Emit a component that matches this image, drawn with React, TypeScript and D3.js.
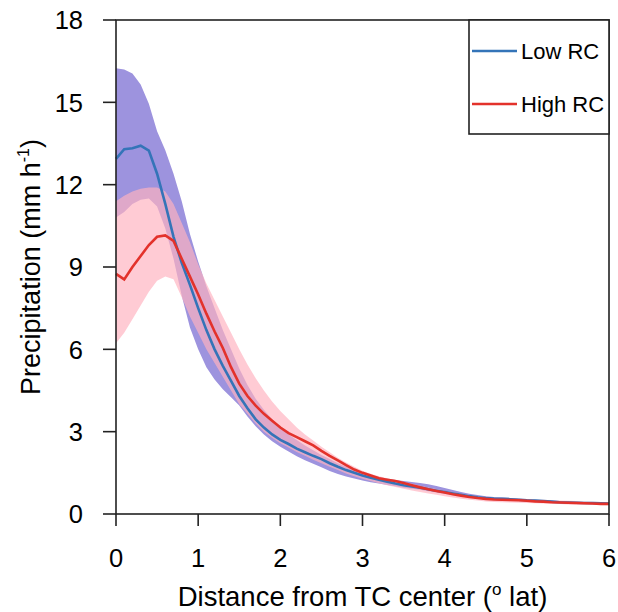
import React from "react";
import * as d3 from "d3";

const distance = [0,0.1,0.2,0.3,0.4,0.5,0.6,0.7,0.8,0.9,1.0,1.1,1.2,1.3,1.4,1.5,1.6,1.7,1.8,1.9,2.0,2.1,2.2,2.3,2.4,2.5,2.6,2.7,2.8,2.9,3.0,3.1,3.2,3.3,3.4,3.5,3.6,3.7,3.8,3.9,4.0,4.1,4.2,4.3,4.4,4.5,4.6,4.7,4.8,4.9,5.0,5.1,5.2,5.3,5.4,5.5,5.6,5.7,5.8,5.9,6.0];

const lowRC = [12.94,13.29,13.33,13.42,13.24,12.4,11.3,10.1,9.15,8.35,7.5,6.7,6.0,5.4,4.85,4.3,3.85,3.45,3.15,2.9,2.7,2.55,2.38,2.25,2.12,2.0,1.85,1.72,1.6,1.5,1.4,1.32,1.25,1.18,1.11,1.05,1.0,0.96,0.9,0.85,0.8,0.75,0.7,0.65,0.61,0.58,0.56,0.55,0.54,0.52,0.5,0.49,0.47,0.45,0.43,0.42,0.41,0.40,0.40,0.39,0.38];
const lowUpper = [16.24,16.2,16.05,15.65,14.95,13.95,13.25,12.4,11.4,10.2,9.2,8.3,7.5,6.7,6.0,5.3,4.7,4.2,3.8,3.45,3.15,2.9,2.7,2.5,2.32,2.15,2.0,1.85,1.72,1.6,1.5,1.42,1.35,1.28,1.24,1.2,1.17,1.13,1.08,1.02,0.95,0.87,0.8,0.74,0.69,0.65,0.62,0.6,0.58,0.56,0.54,0.52,0.5,0.49,0.47,0.46,0.45,0.44,0.43,0.42,0.41];
const lowLower = [10.8,11.0,11.3,11.45,11.5,11.2,10.4,9.3,7.95,6.8,6.0,5.35,4.9,4.55,4.25,3.95,3.55,3.2,2.9,2.65,2.45,2.28,2.1,1.96,1.83,1.7,1.57,1.46,1.37,1.29,1.22,1.16,1.11,1.06,1.01,0.96,0.92,0.88,0.83,0.78,0.73,0.69,0.65,0.61,0.58,0.55,0.53,0.52,0.51,0.49,0.47,0.46,0.44,0.42,0.41,0.4,0.39,0.38,0.38,0.37,0.36];

const highRC = [8.75,8.55,9.0,9.4,9.8,10.1,10.15,9.95,9.3,8.65,8.0,7.3,6.65,6.05,5.35,4.75,4.3,3.95,3.65,3.4,3.15,2.95,2.8,2.65,2.5,2.3,2.12,1.95,1.78,1.62,1.5,1.4,1.3,1.25,1.2,1.13,1.05,0.97,0.9,0.84,0.78,0.72,0.67,0.62,0.58,0.55,0.53,0.52,0.51,0.5,0.48,0.46,0.45,0.43,0.42,0.41,0.40,0.39,0.38,0.37,0.37];
const highUpper = [11.4,11.6,11.75,11.85,11.9,11.9,11.75,11.3,10.6,9.9,9.1,8.4,7.8,7.2,6.6,6.0,5.45,4.95,4.5,4.1,3.75,3.45,3.15,2.9,2.68,2.45,2.25,2.05,1.88,1.72,1.58,1.47,1.38,1.3,1.24,1.17,1.1,1.03,0.97,0.91,0.85,0.8,0.75,0.7,0.66,0.63,0.61,0.59,0.58,0.57,0.55,0.53,0.52,0.5,0.49,0.48,0.47,0.46,0.45,0.44,0.43];
const highLower = [6.22,6.6,7.1,7.6,8.1,8.5,8.65,8.55,7.9,7.2,6.6,6.0,5.5,5.0,4.5,4.0,3.65,3.3,3.0,2.78,2.58,2.42,2.26,2.12,1.98,1.85,1.72,1.6,1.48,1.38,1.28,1.2,1.12,1.05,0.98,0.92,0.86,0.8,0.75,0.7,0.65,0.6,0.56,0.52,0.49,0.46,0.44,0.43,0.42,0.41,0.4,0.39,0.38,0.37,0.36,0.35,0.34,0.34,0.33,0.33,0.32];

const xTicks = [0, 1, 2, 3, 4, 5, 6];
const yTicks = [0, 3, 6, 9, 12, 15, 18];
const legendLabels = ["Low RC", "High RC"];

const BLUE = "#3474b8";
const RED = "#e3322b";
const PURPLE = "#9d93de";
const PINK = "#ffb3c0";
const FONT = "'Liberation Sans', Arial, Helvetica, sans-serif";

export default function App() {
  const left = 116, right = 609, top = 20, bottom = 514;
  const x = d3.scaleLinear().domain([0, 6]).range([left, right]);
  const y = d3.scaleLinear().domain([0, 18]).range([bottom, top]);

  const area = (lo: number[], hi: number[]) =>
    d3.area<number>()
      .x((_, i) => x(distance[i]))
      .y0((_, i) => y(lo[i]))
      .y1((_, i) => y(hi[i]))(distance as any) as string;
  const line = (v: number[]) =>
    d3.line<number>()
      .x((_, i) => x(distance[i]))
      .y((_, i) => y(v[i]))(distance as any) as string;

  const axisColor = "#222";
  return (
    <svg width={618} height={612} style={{ position: "absolute", left: 0, top: 0, display: "block" }}>
      <rect x={0} y={0} width={618} height={612} fill="#fff" />
      <path d={area(lowLower, lowUpper)} fill={PURPLE} />
      <path d={area(highLower, highUpper)} fill={PINK} fillOpacity={0.68} />
      <path d={line(lowRC)} fill="none" stroke={BLUE} strokeWidth={2.6} />
      <path d={line(highRC)} fill="none" stroke={RED} strokeWidth={2.6} />

      <rect x={left} y={top} width={right - left} height={bottom - top} fill="none" stroke={axisColor} strokeWidth={1.6} />
      {xTicks.map((t) => (
        <g key={"x" + t}>
          <line x1={x(t)} x2={x(t)} y1={bottom} y2={bottom + 12} stroke={axisColor} strokeWidth={1.6} />
          <text x={x(t)} y={567} textAnchor="middle" fontFamily={FONT} fontSize={25.5} fill="#000">{t}</text>
        </g>
      ))}
      {yTicks.map((t) => (
        <g key={"y" + t}>
          <line x1={left - 13} x2={left} y1={y(t)} y2={y(t)} stroke={axisColor} strokeWidth={1.6} />
          <text x={83} y={y(t)} dy="0.36em" textAnchor="end" fontFamily={FONT} fontSize={25.5} fill="#000">{t}</text>
        </g>
      ))}
      <text x={(left + right) / 2} y={606} textAnchor="middle" fontFamily={FONT} fontSize={27.5} fill="#000">
        Distance from TC center (<tspan fontSize={17} dy={-11}>o</tspan><tspan dy={11}> lat)</tspan>
      </text>
      <text transform={`translate(40, ${(top + bottom) / 2}) rotate(-90)`} textAnchor="middle" fontFamily={FONT} fontSize={27} fill="#000">
        Precipitation (mm h<tspan fontSize={16} dy={-11}>-1</tspan><tspan dy={11}>)</tspan>
      </text>

      <rect x={469} y={top} width={right - 469} height={114} fill="#fff" stroke={axisColor} strokeWidth={1.6} />
      {legendLabels.map((lab, i) => (
        <g key={lab}>
          <line x1={472} x2={517} y1={51 + i * 53} y2={51 + i * 53} stroke={i === 0 ? BLUE : RED} strokeWidth={2.6} />
          <text x={521} y={51 + i * 53} dy="0.36em" fontFamily={FONT} fontSize={22} fill="#000">{lab}</text>
        </g>
      ))}
    </svg>
  );
}
